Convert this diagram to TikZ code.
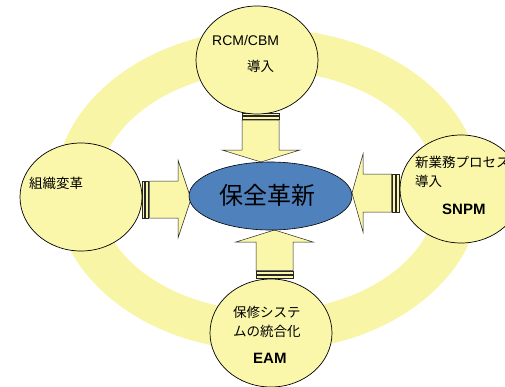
\documentclass[tikz,border=0pt]{standalone}
\usepackage{fontspec}
\setmainfont{Liberation Sans}
\newfontfamily\jp{Noto Sans CJK JP}
\usetikzlibrary{shapes.geometric}
\definecolor{ringyel}{RGB}{249,245,166}
\definecolor{circyel}{RGB}{250,247,170}
\definecolor{ctrblue}{RGB}{79,129,189}
\tikzset{
  bubble/.style={ellipse, draw=black, line width=0.7pt, fill=circyel, minimum width=122pt, minimum height=108pt, inner sep=0pt},
  blockarrow/.style={draw=black!85, line width=0.5pt, fill=circyel},
  lbl/.style={anchor=base west, inner sep=0pt, font=\fontsize{14}{16}\selectfont},
  jlbl/.style={anchor=base west, inner sep=0pt, font=\jp\fontsize{13.5}{16}\selectfont},
  blbl/.style={anchor=base west, inner sep=0pt, font=\bfseries\fontsize{15}{18}\selectfont},
}
\begin{document}
\begin{tikzpicture}[x=1pt,y=-1pt]
\useasboundingbox (0,0) rectangle (505,386);
\clip (0,0) rectangle (505,386);
\fill[white] (0,0) rectangle (505,386);
% ring
\fill[ringyel, even odd rule] (268,190) ellipse [x radius=213pt, y radius=161pt]
  (268,191) ellipse [x radius=170pt, y radius=120pt];
% top arrow (down)
\filldraw[blockarrow] (242,113) rectangle (279,115.5);
\filldraw[blockarrow] (242,116.5) rectangle (279,119);
\filldraw[blockarrow] (242,120) -- (279,120) -- (279,150) -- (300,150) -- (261,162) -- (222,150) -- (242,150) -- cycle;
% left arrow (right)
\filldraw[blockarrow] (142,181) rectangle (144.5,218);
\filldraw[blockarrow] (145.5,181) rectangle (148.5,218);
\filldraw[blockarrow] (149.5,181) -- (178,181) -- (178,160) -- (191,199) -- (178,238) -- (178,218) -- (149.5,218) -- cycle;
% right arrow (left)
\filldraw[blockarrow] (396.5,174) rectangle (399,212);
\filldraw[blockarrow] (392.5,174) rectangle (395.5,212);
\filldraw[blockarrow] (391.5,174) -- (363,174) -- (363,154) -- (352,193) -- (363,232) -- (363,212) -- (391.5,212) -- cycle;
% bottom arrow (up)
\filldraw[blockarrow] (256,275.5) rectangle (293,278);
\filldraw[blockarrow] (256,271.5) rectangle (293,274.5);
\filldraw[blockarrow] (256,270.5) -- (256,242) -- (236,242) -- (274.5,230) -- (313,242) -- (293,242) -- (293,270.5) -- cycle;
% bubbles
\node[bubble] (top) at (257,60) {};
\node[bubble] (left) at (81,197) {};
\node[bubble] (right) at (461,189) {};
\node[bubble] (bottom) at (271,333) {};
% centre
\node[ellipse, draw=black, line width=0.6pt, fill=ctrblue, minimum width=163pt, minimum height=68pt, inner sep=0pt] (center) at (270.5,196) {};
\node[font=\jp\fontsize{24}{28}\selectfont, inner sep=0pt] (ctext) at (267.5,195) {保全革新};
% labels
\node[lbl] (t1) at (212,45) {RCM/CBM};
\node[jlbl] (t2) at (247,71.2) {導入};
\node[jlbl] (l1) at (29,188.2) {組織変革};
\node[jlbl] (r1) at (415,167.2) {新業務プロセス};
\node[jlbl] (r2) at (415,186.2) {導入};
\node[blbl] (r3) at (442,214.4) {SNPM};
\node[jlbl] (b1) at (233,317.1) {保修システ};
\node[jlbl] (b2) at (233,336.1) {ムの統合化};
\node[blbl] (b3) at (253,363.4) {EAM};
\end{tikzpicture}
\end{document}
